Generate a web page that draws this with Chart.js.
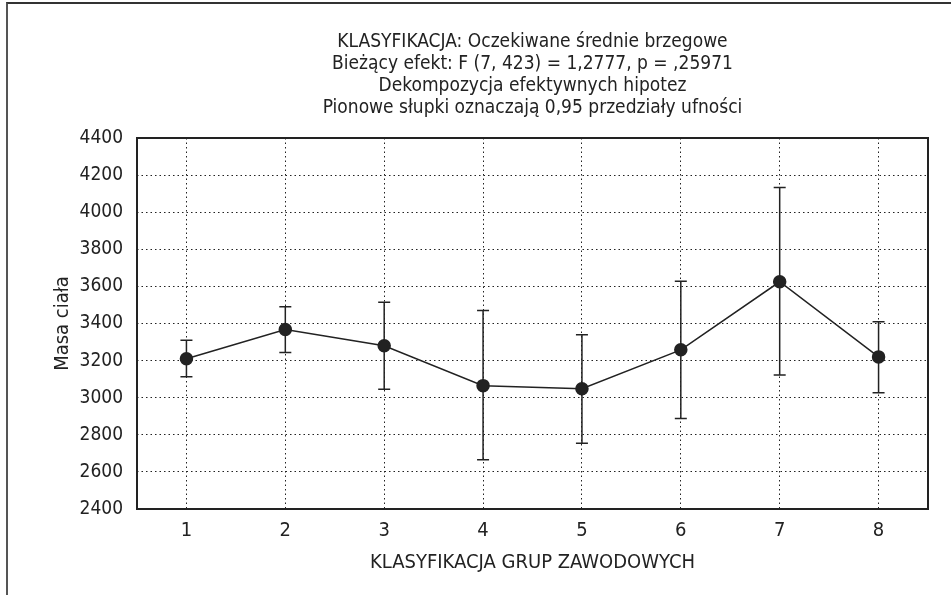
<!DOCTYPE html>
<html lang="pl">
<head>
  <meta charset="UTF-8">
  <title>KLASYFIKACJA: Oczekiwane średnie brzegowe</title>
  <script src="https://cdn.jsdelivr.net/npm/chart.js"></script>
  <style>
    body { margin: 0; background: #fff; }
    #wrap { position: relative; width: 951px; height: 595px; }
    #frame {
      position: absolute; left: 6px; top: 2px; right: 0; bottom: 0;
      border-top: 2px solid #333; border-left: 2px solid #555;
    }
    canvas { position: absolute; left: 0; top: 0; }
  </style>
</head>
<body>
  <div id="wrap">
    <div id="frame"></div>
    <canvas id="chart" width="951" height="595"></canvas>
  </div>
  <script>
    // dane
    const grupy = ['1', '2', '3', '4', '5', '6', '7', '8'];
    const srednie = [3210, 3368, 3280, 3065, 3048, 3258, 3625, 3220];
    const gorne = [3310, 3490, 3515, 3470, 3340, 3628, 4133, 3410];
    const dolne = [3113, 3243, 3045, 2665, 2755, 2888, 3122, 3027];
    const tytul = [
      'KLASYFIKACJA: Oczekiwane średnie brzegowe',
      'Bieżący efekt: F (7, 423) = 1,2777, p = ,25971',
      'Dekompozycja efektywnych hipotez',
      'Pionowe słupki oznaczają 0,95 przedziały ufności'
    ];

    const FONT = "'Liberation Sans Narrow', 'DejaVu Sans Condensed', sans-serif";
    const INK = '#222';

    // ramka wykresu, tytuł i słupki błędów
    const extras = {
      id: 'extras',
      beforeDatasetsDraw(chart) {
        const { ctx, scales: { x, y } } = chart;
        ctx.save();
        ctx.strokeStyle = INK;
        ctx.lineWidth = 1.5;
        for (let i = 0; i < grupy.length; i++) {
          const px = x.getPixelForValue(i);
          const top = y.getPixelForValue(gorne[i]);
          const bot = y.getPixelForValue(dolne[i]);
          ctx.beginPath();
          ctx.moveTo(px, top); ctx.lineTo(px, bot);
          ctx.moveTo(px - 6, top); ctx.lineTo(px + 6, top);
          ctx.moveTo(px - 6, bot); ctx.lineTo(px + 6, bot);
          ctx.stroke();
        }
        ctx.restore();
      },
      afterDraw(chart) {
        const { ctx, chartArea: a } = chart;
        ctx.save();
        ctx.strokeStyle = INK;
        ctx.lineWidth = 2;
        ctx.strokeRect(a.left, a.top, a.right - a.left, a.bottom - a.top);
        ctx.fillStyle = INK;
        ctx.font = '19px ' + FONT;
        ctx.textAlign = 'center';
        ctx.textBaseline = 'alphabetic';
        const cx = (a.left + a.right) / 2;
        tytul.forEach((t, i) => ctx.fillText(t, cx, 47 + i * 22));
        ctx.restore();
      }
    };

    new Chart(document.getElementById('chart'), {
      type: 'line',
      data: {
        labels: grupy,
        datasets: [{
          data: srednie,
          borderColor: INK,
          borderWidth: 1.5,
          pointRadius: 6,
          pointBackgroundColor: INK,
          pointBorderColor: INK,
          tension: 0
        }]
      },
      options: {
        responsive: false,
        animation: false,
        layout: { padding: { top: 138, left: 47, right: 23, bottom: 16 } },
        plugins: { legend: { display: false }, tooltip: { enabled: false } },
        scales: {
          x: {
            offset: true,
            afterFit: s => { s.height = 70; },
            grid: { offset: false, color: '#222', lineWidth: 1, drawTicks: false },
            border: { display: false, dash: [1.5, 3] },
            ticks: { color: INK, padding: 10, font: { family: FONT, size: 20 } },
            title: { display: true, text: 'KLASYFIKACJA GRUP ZAWODOWYCH', color: INK,
                     padding: { top: 4, bottom: 4 }, font: { family: FONT, size: 20 } }
          },
          y: {
            min: 2400, max: 4400,
            afterFit: s => { s.width = 90; },
            grid: { color: '#222', lineWidth: 1, drawTicks: false },
            border: { display: false, dash: [1.5, 3] },
            ticks: { stepSize: 200, color: INK, padding: 14,
                     font: { family: FONT, size: 19 },
                     callback: v => String(v) },
            title: { display: true, text: 'Masa ciała', color: INK,
                     padding: { top: 4, bottom: 4 }, font: { family: FONT, size: 20 } }
          }
        }
      },
      plugins: [extras]
    });
  </script>
</body>
</html>
